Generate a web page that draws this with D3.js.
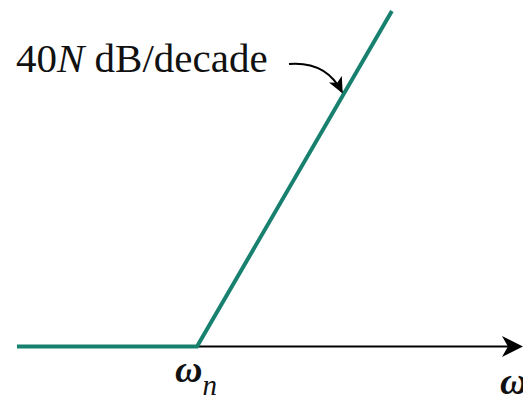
<!DOCTYPE html>
<html>
<head>
<meta charset="utf-8">
<script src="https://cdn.jsdelivr.net/npm/d3@7/dist/d3.min.js"></script>
<style>
  html, body { margin: 0; padding: 0; background: #fff; }
  svg { display: block; }
</style>
</head>
<body>
<script>
// Asymptotic Bode magnitude of a repeated second-order zero (N = 1):
// flat below the corner frequency, rising at 40N dB/decade above it.
const omega = [0.1, 1, 12.1];          // ω / ωn
const magnitudeDb = [0, 0, 43.3];      // asymptote, dB
const axisOmega = [1, 64.7];           // extent of the frequency axis
const slopeLabel = ["40", "N", " dB/decade"];
const cornerLabel = ["ω", "n"];
const axisLabel = "ω";

const W = 523, H = 400;
const svg = d3.select("body").append("svg")
  .attr("width", W).attr("height", H);

const x = d3.scaleLog().domain([0.1, 1]).range([17, 197]);
const y = d3.scaleLinear().domain([0, 43.3]).range([346.5, 11]);

const teal = "#17806f";
const serif = "'Liberation Serif', 'Times New Roman', serif";

// frequency axis with a notched arrowhead
const ax0 = x(axisOmega[0]), ax1 = x(axisOmega[1]), ay = y(0);
svg.append("line")
  .attr("x1", ax0).attr("y1", ay)
  .attr("x2", ax1 - 12).attr("y2", ay)
  .attr("stroke", "#000").attr("stroke-width", 2);
svg.append("path")
  .attr("d", `M${ax1},${ay} L${ax1 - 21},${ay - 10.5} L${ax1 - 15},${ay} L${ax1 - 21},${ay + 10.5} Z`)
  .attr("fill", "#000");

// asymptote
const pts = omega.map((w, i) => [w, magnitudeDb[i]]);
svg.append("path")
  .datum(pts)
  .attr("d", d3.line().x(d => x(d[0])).y(d => y(d[1])))
  .attr("fill", "none")
  .attr("stroke", teal)
  .attr("stroke-width", 4)
  .attr("stroke-linejoin", "miter");

// slope annotation
const t = svg.append("text")
  .attr("x", 16).attr("y", 72)
  .attr("font-family", serif).attr("font-size", 41).attr("fill", "#111");
t.append("tspan").text(slopeLabel[0]);
t.append("tspan").attr("font-style", "italic").text(slopeLabel[1]);
t.append("tspan").text(slopeLabel[2]);

// curved pointer to the rising segment
const defs = svg.append("defs");
defs.append("marker")
  .attr("id", "head")
  .attr("viewBox", "0 0 10 10")
  .attr("refX", 9).attr("refY", 5)
  .attr("markerWidth", 16).attr("markerHeight", 16)
  .attr("markerUnits", "userSpaceOnUse")
  .attr("orient", "auto")
  .append("path")
  .attr("d", "M0,0.5 L10,5 L0,9.5 L2.5,5 Z")
  .attr("fill", "#000");
svg.append("path")
  .attr("d", "M289,64 Q326,61 342,92")
  .attr("fill", "none")
  .attr("stroke", "#000")
  .attr("stroke-width", 2)
  .attr("marker-end", "url(#head)");

// corner-frequency label
const c = svg.append("text")
  .attr("x", 175).attr("y", 382)
  .attr("font-family", serif).attr("font-size", 38)
  .attr("fill", "#111");
c.append("tspan").attr("font-weight", "bold").attr("font-style", "italic").text(cornerLabel[0]);
c.append("tspan").attr("font-style", "italic").attr("dy", 13).attr("font-size", 29).text(cornerLabel[1]);

// axis label
svg.append("text")
  .attr("x", 500).attr("y", 394)
  .attr("font-family", serif).attr("font-size", 38)
  .attr("font-weight", "bold").attr("font-style", "italic")
  .attr("fill", "#111")
  .text(axisLabel);
</script>
</body>
</html>
